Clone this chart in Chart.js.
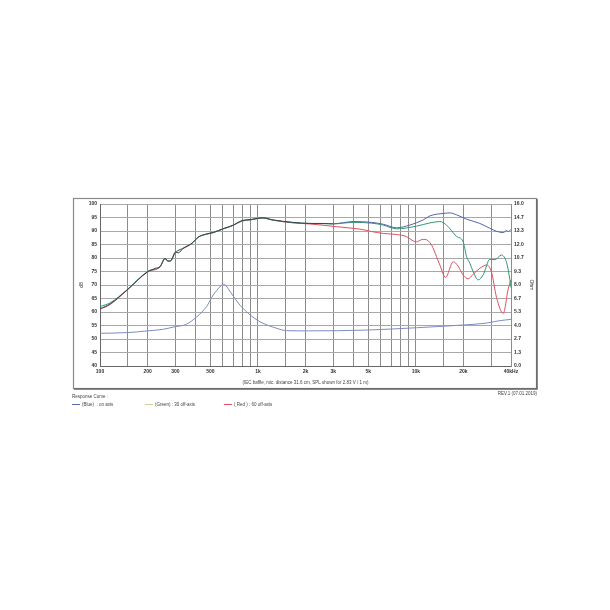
<!DOCTYPE html>
<html>
<head>
<meta charset="utf-8">
<script src="https://cdn.jsdelivr.net/npm/chart.js@4.4.1/dist/chart.umd.min.js"></script>
<style>
  html, body { margin: 0; padding: 0; background: #fff; }
  canvas { display: block; }
</style>
</head>
<body>
<canvas id="myChart" width="610" height="610"></canvas>
<script>
// frequency grid + labels
const gridFreqs = [100,150,200,300,400,500,600,700,800,900,1000,1500,2000,3000,4000,5000,6000,7000,8000,9000,10000,15000,20000,30000,40000];
const freqLabels = {100:'100',200:'200',300:'300',500:'500',1000:'1k',2000:'2k',3000:'3k',5000:'5k',10000:'10k',20000:'20k',40000:'40kHz'};
const ohmLabels = ['0.0','1.3','2.7','4.0','5.3','6.7','8.0','9.3','10.7','12.0','13.3','14.7','16.0'];

// (Blue) on axis
const onFreq = [100,116,148,200,225,240,258,270,281,300,313,336,381,419,473,521,604,660,697,786,910,1070,1250,1670,2134,2600,3000,4012,5244,6210,7548,9163,11120,12270,14890,16410,18080,20910,25400,29400,32400,35720,37490,38390,40000];
const onSpl  = [61.2,63.0,68.1,74.9,76.2,76.8,79.9,78.9,79.0,82.2,81.9,83.6,85.4,87.7,88.9,89.4,90.9,91.6,92.2,93.8,94.3,94.9,94.1,93.2,92.8,92.8,92.6,93.5,93.2,92.5,91.2,92.2,94.1,95.6,96.5,96.7,96.0,94.4,92.8,91.0,89.9,89.4,90.2,89.8,90.6];

// (Green) 30 off-axis
const off30Freq = [100,116,148,200,240,258,270,281,300,336,381,419,473,521,604,697,786,910,1070,1250,1670,2134,3000,4012,5244,6210,7548,10090,12270,14180,15630,18080,19920,20910,21970,23060,24770,26670,29400,31620,34860,37490,39350,40000];
const off30Spl  = [62.0,63.4,68.2,75.0,76.8,79.7,78.8,79.1,82.0,83.6,85.4,87.8,88.9,89.5,90.8,92.1,93.6,94.2,94.8,94.0,93.1,92.8,92.7,93.2,92.9,92.2,90.8,91.8,93.0,93.5,92.2,88.0,86.0,80.6,78.0,74.9,71.9,73.8,79.5,79.4,81.1,78.3,72.0,69.0];

// (Red) 60 off-axis
const off60Freq = [100,116,148,200,240,258,270,281,300,336,381,419,473,521,604,697,786,910,1070,1250,1670,2134,3144,4012,4422,5244,6210,7548,8730,9610,10090,10860,11400,12570,13510,14180,15400,17230,18500,19920,21400,23060,25400,28000,30100,32400,35720,38390,40000];
const off60Spl  = [61.0,62.8,68.0,74.8,76.7,79.6,78.8,79.0,82.0,83.5,85.3,87.7,88.8,89.4,90.8,92.1,93.6,94.2,94.8,94.0,93.0,92.6,91.6,91.0,90.7,89.8,89.1,88.7,87.9,86.3,86.0,86.8,86.9,84.8,80.5,77.4,72.8,78.6,77.0,73.7,72.3,74.0,76.2,77.4,74.8,65.4,59.5,68.5,72.0];

// impedance (Ohm)
const impFreq = [100,150,200,250,300,350,409,473,520,548,580,604,630,663,720,770,847,890,1030,1310,1520,2080,4900,10090,20000,28000,34000,40000];
const impOhm  = [3.23,3.30,3.47,3.62,3.89,4.10,4.85,5.87,7.0,7.45,7.9,8.08,7.9,7.4,6.6,6.0,5.36,5.05,4.37,3.73,3.49,3.47,3.55,3.78,4.05,4.24,4.48,4.61];

const pts = (xs, ys) => xs.map((x, i) => ({x: x, y: ys[i]}));
const FONT = 'Liberation Sans, Arial, sans-serif';

const decor = {
  id: 'decor',
  beforeDraw(chart) {
    const ctx = chart.ctx;
    ctx.save();
    ctx.fillStyle = '#fff';
    ctx.fillRect(0, 0, chart.width, chart.height);
    ctx.restore();
  },
  afterDraw(chart) {
    const ctx = chart.ctx;
    const a = chart.chartArea;
    ctx.save();
    // outer frame
    ctx.strokeStyle = '#8a8a8a';
    ctx.lineWidth = 1.2;
    ctx.strokeRect(73.5, 198.5, 463, 190);
    ctx.strokeStyle = '#666';
    ctx.lineWidth = 1.5;
    ctx.beginPath();
    ctx.moveTo(74, 389); ctx.lineTo(537, 389); ctx.lineTo(537, 199);
    ctx.stroke();

    // axis titles
    ctx.fillStyle = '#333';
    ctx.font = '5px ' + FONT;
    ctx.textAlign = 'center';
    ctx.textBaseline = 'middle';
    ctx.save();
    ctx.translate(82, (a.top + a.bottom) / 2);
    ctx.rotate(-Math.PI / 2);
    ctx.fillText('dB', 0, 0);
    ctx.restore();
    ctx.save();
    ctx.translate(531, (a.top + a.bottom) / 2);
    ctx.rotate(Math.PI / 2);
    ctx.fillText('Ohm', 0, 0);
    ctx.restore();

    ctx.font = '4.5px ' + FONT;
    ctx.fillStyle = '#444';
    ctx.fillText('(IEC baffle, mic. distance 31.6 cm, SPL shown for 2.83 V / 1 m)', (a.left + a.right) / 2, 383);

    // footer
    ctx.textAlign = 'left';
    ctx.fillText('Response Curve :', 72, 397);
    ctx.textAlign = 'right';
    ctx.fillText('REV.1 (07.01.2019)', 537, 394);

    const legend = [
      {x: 72, c: '#5a68a8', t: '(Blue)  : on axis'},
      {x: 145, c: '#c8d38c', t: '(Green) : 30 off-axis'},
      {x: 224, c: '#e0505e', t: '( Red ) : 60 off-axis'}
    ];
    ctx.textAlign = 'left';
    legend.forEach(l => {
      ctx.strokeStyle = l.c;
      ctx.lineWidth = 1;
      ctx.beginPath();
      ctx.moveTo(l.x, 404.5); ctx.lineTo(l.x + 8, 404.5);
      ctx.stroke();
      ctx.fillStyle = '#444';
      ctx.fillText(l.t, l.x + 10, 404.5);
    });
    ctx.restore();
  }
};

var ctx = document.getElementById('myChart').getContext('2d');
var myChart = new Chart(ctx, {
  type: 'line',
  data: {
    datasets: [
      {
        label: 'on axis',
        data: pts(onFreq, onSpl),
        yAxisID: 'y',
        borderColor: '#5565a8',
        segment: {
          borderColor: c => c.p1.parsed.x <= 3000 ? '#3c4050' : '#5565a8'
        },
        borderWidth: 1,
        order: 1
      },
      {
        label: '30 off-axis',
        data: pts(off30Freq, off30Spl),
        yAxisID: 'y',
        borderColor: '#2f9a72',
        borderWidth: 1,
        order: 2
      },
      {
        label: '60 off-axis',
        data: pts(off60Freq, off60Spl),
        yAxisID: 'y',
        borderColor: '#e0505e',
        borderWidth: 1,
        order: 3
      },
      {
        label: 'impedance',
        data: pts(impFreq, impOhm),
        yAxisID: 'ohm',
        borderColor: '#7d8cc0',
        borderWidth: 1,
        order: 4
      }
    ]
  },
  options: {
    responsive: false,
    animation: false,
    devicePixelRatio: 1,
    layout: { padding: { top: 204, left: 60, right: 59, bottom: 224 } },
    elements: {
      point: { radius: 0 },
      line: { cubicInterpolationMode: 'monotone', fill: false }
    },
    plugins: {
      legend: { display: false },
      tooltip: { enabled: false }
    },
    scales: {
      x: {
        type: 'logarithmic',
        min: 100,
        max: 40000,
        afterBuildTicks: s => { s.ticks = gridFreqs.map(v => ({value: v})); },
        afterFit: s => { s.height = 20; },
        ticks: {
          autoSkip: false,
          maxRotation: 0,
          padding: 3,
          color: '#333',
          font: { family: FONT, size: 5, weight: 'bold' },
          callback: v => freqLabels[v] || ''
        },
        grid: { color: '#8c8c8c', lineWidth: 1, drawTicks: false },
        border: { color: '#666' }
      },
      y: {
        position: 'left',
        min: 40,
        max: 100,
        afterFit: s => { s.width = 40; },
        ticks: {
          stepSize: 5,
          padding: 3,
          color: '#333',
          font: { family: FONT, size: 5, weight: 'bold' }
        },
        grid: { color: '#a8a8a8', lineWidth: 1, drawTicks: false },
        border: { color: '#666' }
      },
      ohm: {
        position: 'right',
        min: 0,
        max: 16,
        afterBuildTicks: s => { s.ticks = ohmLabels.map((t, i) => ({value: i * 16 / 12})); },
        afterFit: s => { s.width = 40; },
        ticks: {
          padding: 3,
          color: '#333',
          font: { family: FONT, size: 5, weight: 'bold' },
          callback: (v, i) => ohmLabels[i]
        },
        grid: { drawOnChartArea: false, drawTicks: false },
        border: { color: '#8c8c8c' }
      }
    }
  },
  plugins: [decor]
});
</script>
</body>
</html>
